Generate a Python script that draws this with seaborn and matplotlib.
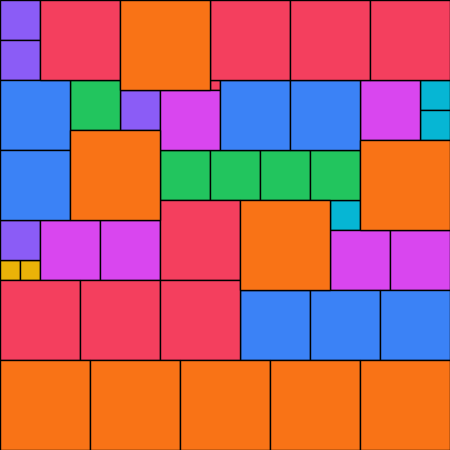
import matplotlib
matplotlib.use("Agg")
import matplotlib.pyplot as plt
import seaborn as sns
import pandas as pd

# Each square: side length (units of 10 px) and its packed position (col, row)
sizes = [1,
         2, 2,
         3, 3, 3,
         4, 4, 4, 4,
         5, 5, 5, 5, 5,
         6, 6, 6, 6, 6, 6,
         7, 7, 7, 7, 7, 7, 7,
         8, 8, 8, 8, 8, 8, 8, 8,
         9, 9, 9, 9, 9, 9, 9, 9, 9]
cols = [21,
        0, 2,
        42, 42, 33,
        0, 0, 12, 0,
        7, 16, 21, 26, 31,
        16, 36, 33, 39, 4, 10,
        0, 22, 29, 0, 24, 31, 38,
        4, 21, 29, 37, 16, 0, 8, 16,
        12, 7, 36, 24, 0, 9, 18, 27, 36]
rows = [8,
        26, 26,
        8, 11, 20,
        0, 4, 9, 22,
        8, 15, 15, 15, 15,
        9, 8, 23, 23, 22, 22,
        8, 8, 8, 15, 29, 29, 29,
        0, 0, 0, 0, 20, 28, 28, 28,
        0, 13, 14, 20, 36, 36, 36, 36, 36]

palette = {1: "#f43f5e", 2: "#eab308", 3: "#06b6d4", 4: "#8b5cf6",
           5: "#22c55e", 6: "#d946ef", 7: "#3b82f6", 8: "#f43f5e",
           9: "#f97316"}

df = pd.DataFrame({"size": sizes, "col": cols, "row": rows})

sns.set_theme(style="white")
fig = plt.figure(figsize=(4.5, 4.5), dpi=100)
ax = fig.add_axes([0, 0, 1, 1])
ax.bar(df["col"], df["size"], width=df["size"], bottom=df["row"],
       align="edge", color=[palette[s] for s in df["size"]],
       edgecolor="black", linewidth=1.0)
ax.set_xlim(0, 45)
ax.set_ylim(45, 0)
ax.set_axis_off()
fig.savefig("out.png", dpi=100)
